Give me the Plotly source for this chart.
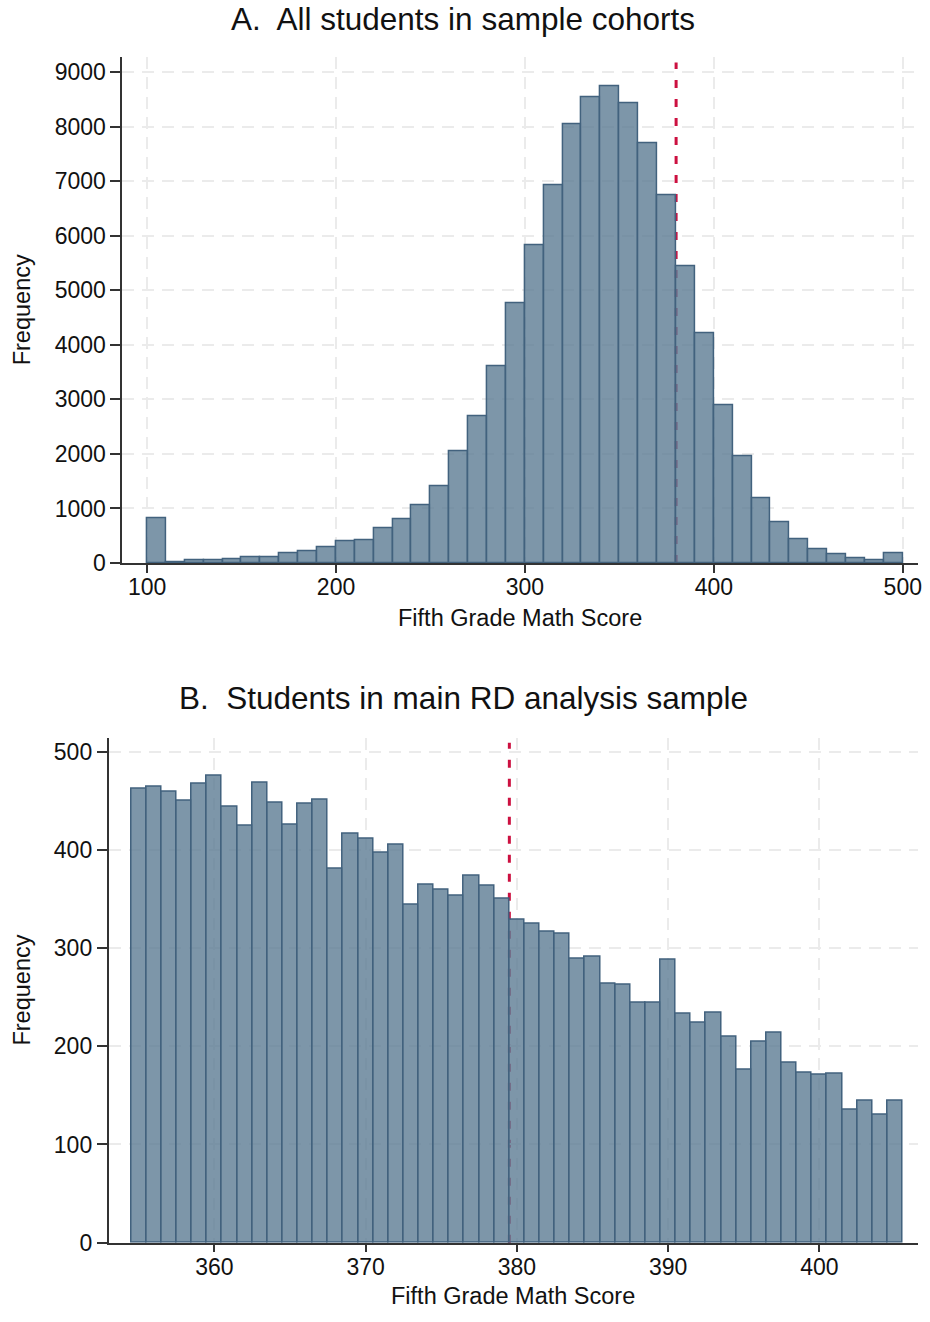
import plotly.graph_objects as go

# Panel A: all students, 10-point score bins starting at 100
bins_a_start = 100
bin_width_a = 10
counts_a = [824, 12, 45, 58, 60, 110, 112, 175, 220, 279,
            389, 421, 642, 804, 1057, 1414, 2049, 2691, 3612, 4760,
            5830, 6926, 8042, 8534, 8735, 8424, 7698, 6744, 5447, 4215,
            2886, 1958, 1180, 746, 434, 253, 162, 91, 52, 182]
cutoff_a = 380
xticks_a = [100, 200, 300, 400, 500]
yticks_a = [0, 1000, 2000, 3000, 4000, 5000, 6000, 7000, 8000, 9000]

# Panel B: RD analysis sample, 1-point score bins centred on 355..405
bins_b_start = 355
bin_width_b = 1
counts_b = [462, 464, 459, 450, 468, 476, 444, 425, 469, 448,
            426, 447, 451, 381, 417, 412, 397, 405, 344, 365,
            360, 353, 374, 364, 350,
            329, 325, 317, 315, 289, 291, 264, 263, 244, 244,
            288, 233, 224, 234, 210, 176, 205, 214, 183, 173,
            171, 172, 135, 145, 130, 145]
cutoff_b = 379.5
xticks_b = [360, 370, 380, 390, 400]
yticks_b = [0, 100, 200, 300, 400, 500]

FONT = "Liberation Sans, Arial, Helvetica, sans-serif"
BAR_FILL = "rgba(93,124,147,0.80)"
BAR_LINE = "rgb(66,98,126)"
CUT_COLOR = "#cc1040"
AXIS_COLOR = "#333333"
GRID_COLOR = "#ebebeb"
TEXT_COLOR = "#111111"

W, H = 930, 1322

x_a = [bins_a_start + bin_width_a * (i + 0.5) for i in range(len(counts_a))]
x_b = [bins_b_start + bin_width_b * i for i in range(len(counts_b))]

fig = go.Figure()
fig.add_trace(go.Bar(x=x_a, y=counts_a, width=bin_width_a,
                     marker=dict(color=BAR_FILL, line=dict(color=BAR_LINE, width=1.5)),
                     xaxis="x", yaxis="y", showlegend=False))
fig.add_trace(go.Bar(x=x_b, y=counts_b, width=bin_width_b,
                     marker=dict(color=BAR_FILL, line=dict(color=BAR_LINE, width=1.5)),
                     xaxis="x2", yaxis="y2", showlegend=False))


def px_x(p):
    return p / W


def px_y(p):
    return 1 - p / H


axis_common = dict(
    showline=True, linecolor=AXIS_COLOR, linewidth=1.5,
    ticks="outside", tickwidth=1.5, tickcolor=AXIS_COLOR,
    showgrid=True, gridcolor=GRID_COLOR, gridwidth=1.5, griddash="12px,8px",
    zeroline=False, tickfont=dict(family=FONT, size=23, color=TEXT_COLOR),
)
xaxis_extra = dict(ticklen=8, ticklabelstandoff=-5)
yaxis_extra = dict(ticklen=10, ticklabelstandoff=0)

fig.update_layout(
    width=W, height=H,
    margin=dict(l=0, r=0, t=0, b=0),
    paper_bgcolor="white", plot_bgcolor="white",
    bargap=0,
    xaxis=dict(domain=[px_x(122.7), px_x(921.7)], range=[86.8, 507.9],
               tickvals=xticks_a, anchor="y", **axis_common, **xaxis_extra),
    yaxis=dict(domain=[px_y(568.6), px_y(57.9)], range=[0, 9272],
               tickvals=yticks_a, anchor="x", **axis_common, **yaxis_extra),
    xaxis2=dict(domain=[px_x(109), px_x(921.7)], range=[353.0, 406.5],
                tickvals=xticks_b, anchor="y2", **axis_common, **xaxis_extra),
    yaxis2=dict(domain=[px_y(1255), px_y(745)], range=[0, 514.4],
                tickvals=yticks_b, anchor="x2", **axis_common, **yaxis_extra),
)

# Cutoff lines, drawn beneath the semi-transparent bars
for xref, yref, cut in (("x", "y domain", cutoff_a), ("x2", "y2 domain", cutoff_b)):
    fig.add_shape(type="line", xref=xref, yref=yref, x0=cut, x1=cut, y0=0, y1=0.99,
                  line=dict(color=CUT_COLOR, width=3, dash="8px,11px"), layer="below")

titles = [
    ("A.  All students in sample cohorts", 465, 19),
    ("B.  Students in main RD analysis sample", 465, 705),
]
for text, x, y in titles:
    fig.add_annotation(text=text, x=px_x(x), y=px_y(y), xref="paper", yref="paper",
                       xanchor="center", yanchor="middle", showarrow=False,
                       font=dict(family=FONT, size=31.5, color=TEXT_COLOR))

axis_titles = [
    ("Fifth Grade Math Score", 522, 624, 0),
    ("Fifth Grade Math Score", 515, 1309, 0),
    ("Frequency", 22.5, 313, -90),
    ("Frequency", 22.5, 1000, -90),
]
for text, x, y, ang in axis_titles:
    fig.add_annotation(text=text, x=px_x(x), y=px_y(y), xref="paper", yref="paper",
                       xanchor="center", yanchor="middle", showarrow=False, textangle=ang,
                       font=dict(family=FONT, size=23.5, color=TEXT_COLOR))

fig.write_html("out.html")
